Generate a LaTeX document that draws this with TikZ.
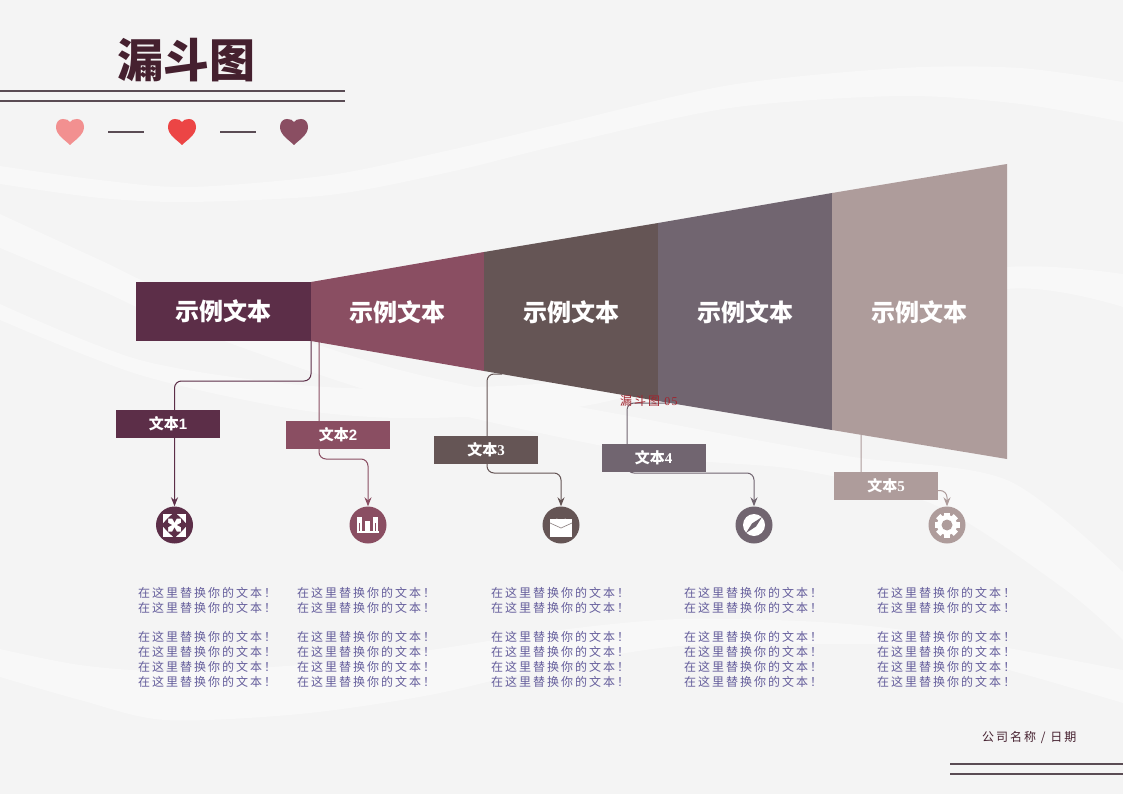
\documentclass[tikz,border=0pt]{standalone}
\usepackage{fontspec}
\usetikzlibrary{arrows.meta,calc}
\newfontfamily\cjk{Noto Sans CJK SC}
\newfontfamily\cjkls[LetterSpace=16.7]{Noto Sans CJK SC}
\newfontfamily\lsans{Liberation Sans}
\newfontfamily\lserif{Liberation Serif}
\newfontfamily\lserifls[LetterSpace=10]{Liberation Serif}
\definecolor{bgc}{HTML}{F4F4F4}
\definecolor{wavec}{HTML}{F8F8F8}
\definecolor{ca}{HTML}{5C2E48}
\definecolor{cb}{HTML}{8A4E62}
\definecolor{cc}{HTML}{655555}
\definecolor{cd}{HTML}{716570}
\definecolor{ce}{HTML}{AE9C9B}
\definecolor{titlec}{HTML}{45202F}
\definecolor{rulec}{HTML}{5A4C54}
\definecolor{bodyc}{HTML}{655E9C}
\definecolor{redc}{HTML}{A0252F}
\definecolor{hearta}{HTML}{F29090}
\definecolor{heartb}{HTML}{EC4545}
\pgfdeclarelayer{waves}
\pgfdeclarelayer{conn}
\pgfsetlayers{waves,conn,main}
\tikzset{
  seglabel/.style={text=white,font=\cjk\bfseries\fontsize{24}{24}\selectfont,inner sep=0pt},
  tag/.style={fill=#1,text=white,minimum width=104pt,minimum height=28pt,inner sep=0pt,font=\cjk\bfseries\fontsize{15}{15}\selectfont},
  iconc/.style={circle,fill=#1,minimum size=37pt,inner sep=0pt},
  link/.style={draw=#1,line width=1pt,rounded corners=7pt},
  linka/.style={link=#1,-{Stealth[length=9pt,width=7pt]}},
  bodyt/.style={anchor=west,inner sep=0pt,text=bodyc,font=\cjkls\fontsize{12}{12}\selectfont},
  rulel/.style={draw=rulec,line width=2pt},
  wave/.style={fill=wavec,draw=none},
}
\newcommand{\heartat}[2]{\fill[#2,shift={(#1)}] (0,26) .. controls (-5,21) and (-14,16) .. (-14,8) .. controls (-14,3) and (-11,0) .. (-7,0) .. controls (-4,0) and (-1,1) .. (0,3) .. controls (1,1) and (4,0) .. (7,0) .. controls (11,0) and (14,3) .. (14,8) .. controls (14,16) and (5,21) .. (0,26) -- cycle;}
\newcommand{\bodyblock}[1]{%
  \foreach \yy in {593,608,637,652,667,682}
    \node[bodyt] at (#1,\yy) {在这里替换你的文本！};}
\begin{document}
\begin{tikzpicture}[x=1pt,y=-1pt]
\useasboundingbox (0,0) rectangle (1123,794);
\begin{pgfonlayer}{waves}
\fill[bgc] (0,0) rectangle (1123,794);
\fill[wave] plot[smooth] coordinates {(0,166) (100,180) (190,187) (330,175) (450,150) (560,124) (730,85) (901,68) (1020,68) (1123,82)} -- plot[smooth] coordinates {(1123,122) (1020,104) (901,96) (730,108) (560,145) (450,172) (330,195) (190,202) (100,198) (0,184)} -- cycle;
\fill[wave] plot[smooth] coordinates {(0,214) (100,260) (180,296) (400,370) (650,420) (847,456) (1007,480) (1123,572)} -- plot[smooth] coordinates {(1123,640) (1063,588) (937,506) (800,470) (650,455) (400,400) (180,325) (100,290) (0,248)} -- cycle;
\fill[wave] plot[smooth] coordinates {(0,304) (140,360) (300,385) (430,388) (600,375) (800,300) (1007,267) (1123,274)} -- plot[smooth] coordinates {(1123,307) (1007,289) (800,340) (600,403) (430,418) (300,410) (140,375) (0,320)} -- cycle;
\fill[wave] plot[smooth] coordinates {(0,649) (80,665) (165,671) (300,665) (430,650) (560,630) (680,619) (820,622) (931,634) (1123,670)} -- plot[smooth] coordinates {(1123,703) (931,650) (820,644) (680,646) (560,665) (430,695) (300,714) (165,720) (80,700) (0,677)} -- cycle;
\end{pgfonlayer}

% title block
\node[inner sep=0pt,text=titlec,font=\cjk\bfseries\fontsize{46}{46}\selectfont] (title) at (186.5,60) {漏斗图};
\draw[rulel] (0,91) -- (345,91);
\draw[rulel] (0,101) -- (345,101);
\heartat{70,119}{hearta}
\heartat{182,119}{heartb}
\heartat{294,119}{cb}
\draw[rulel] (108,132) -- (144,132);
\draw[rulel] (220,132) -- (256,132);

% funnel
\fill[ca] (136,282) rectangle (311,341);
\fill[cb] (311,282) -- (484,252) -- (484,371) -- (311,341) -- cycle;
\fill[cc] (484,252) -- (658,223) -- (658,401) -- (484,371) -- cycle;
\fill[cd] (658,223) -- (832,193) -- (832,430) -- (658,401) -- cycle;
\fill[ce] (832,193) -- (1007,164) -- (1007,459) -- (832,430) -- cycle;
\node[seglabel] (s1) at (223,311) {示例文本};
\node[seglabel] (s2) at (397,312) {示例文本};
\node[seglabel] (s3) at (571,312) {示例文本};
\node[seglabel] (s4) at (745,312) {示例文本};
\node[seglabel] (s5) at (919,312) {示例文本};

% connector start points on funnel edge
\coordinate (st1) at (311,341);
\coordinate (st2) at (319,342);
\coordinate (st3) at (502,374);
\coordinate (st4) at (668,403);
\coordinate (st5) at (861,435);

% tags
\node[tag=ca] (t1) at (168,423.5) {文本{\lsans 1}};
\node[tag=cb] (t2) at (338,435) {文本{\lsans 2}};
\node[tag=cc] (t3) at (486,450) {文本{\lserif 3}};
\node[tag=cd] (t4) at (653.5,458) {文本{\lserif 4}};
\node[tag=ce] (t5) at (886,486) {文本{\lserif 5}};

% icons
\node[iconc=ca] (i1) at (174.5,525) {};
\node[iconc=cb] (i2) at (368,525) {};
\node[iconc=cc] (i3) at (561,525) {};
\node[iconc=cd] (i4) at (754,525) {};
\node[iconc=ce] (i5) at (947,525) {};

% connectors
\begin{pgfonlayer}{conn}
\draw[linka=ca] (st1) -- ++(0,40) -| (i1.north);
\draw[linka=cb] (st2) -- ++(0,117) -| (i2.north);
\draw[linka=cc] (st3) -- (487,374) -- (487,473) -| (i3.north);
\draw[linka=cd] (st4) -- (627,403) -- (627,473) -| (i4.north);
\draw[linka=ce] (st5) -- (861,490.5) -| (i5.north);
\end{pgfonlayer}

% icon 1: arrows to the corners
\begin{scope}[shift={(i1.center)}]
  \fill[white] (-11.5,-11.5) rectangle (11.5,11.5);
  \foreach \a in {0,90,180,270}
    \fill[ca,rotate=\a] (0,-13) -- (7,-6.5) -- (2.2,-6.5) -- (0,-2.5) -- (-2.2,-6.5) -- (-7,-6.5) -- cycle;
\end{scope}
% icon 2: bars
\begin{scope}[shift={(i2.center)}]
  \fill[white] (-11,5.5) rectangle (11,7.5);
  \fill[white] (-11,-8.5) rectangle (-6,6);
  \fill[white] (-3,-4.5) rectangle (2,6);
  \fill[white] (4.5,-8.5) rectangle (10,6);
  \fill[cb] (-9.5,-2) rectangle (-8.5,5.5);
  \fill[cb] (6.5,-2) rectangle (7.5,5.5);
\end{scope}
% icon 3: briefcase
\begin{scope}[shift={(i3.center)}]
  \draw[white,line width=2.5pt] (-5,-6) arc[start angle=180,end angle=360,x radius=5,y radius=-5];
  \fill[white] (-11,-6) rectangle (11,12);
  \draw[cc!70!white,line width=.7pt] (-11,-2) -- (0,3) -- (11,-2);
\end{scope}
% icon 4: compass
\begin{scope}[shift={(i4.center)}]
  \fill[white] (0,0) circle[radius=11];
  \fill[cd] (8,-8) -- (2,1.5) -- (-8,8) -- (-2,-1.5) -- cycle;
\end{scope}
% icon 5: gear
\begin{scope}[shift={(i5.center)}]
  \foreach \a in {0,45,...,315}
    \fill[white,rotate=\a] (-3,-12.5) rectangle (3,-6);
  \fill[white] (0,0) circle[radius=10];
  \fill[ce] (0,0) circle[radius=5.5];
\end{scope}

% body text
\bodyblock{138}
\bodyblock{297}
\bodyblock{491}
\bodyblock{684}
\bodyblock{877}

% stray caption
\node[anchor=west,inner sep=0pt,text=redc,font=\cjkls\fontsize{12}{12}\selectfont] (cap) at (620,401) {漏斗图{\lserifls\ 05}};

% footer
\node[anchor=west,inner sep=0pt,text=titlec,font=\cjkls\fontsize{12}{12}\selectfont] (foot) at (982,738) {公司名称 / 日期};
\draw[draw=rulec,line width=1.2pt] (950,764) -- (1123,764);
\draw[draw=rulec,line width=1.2pt] (950,774) -- (1123,774);
\end{tikzpicture}
\end{document}
